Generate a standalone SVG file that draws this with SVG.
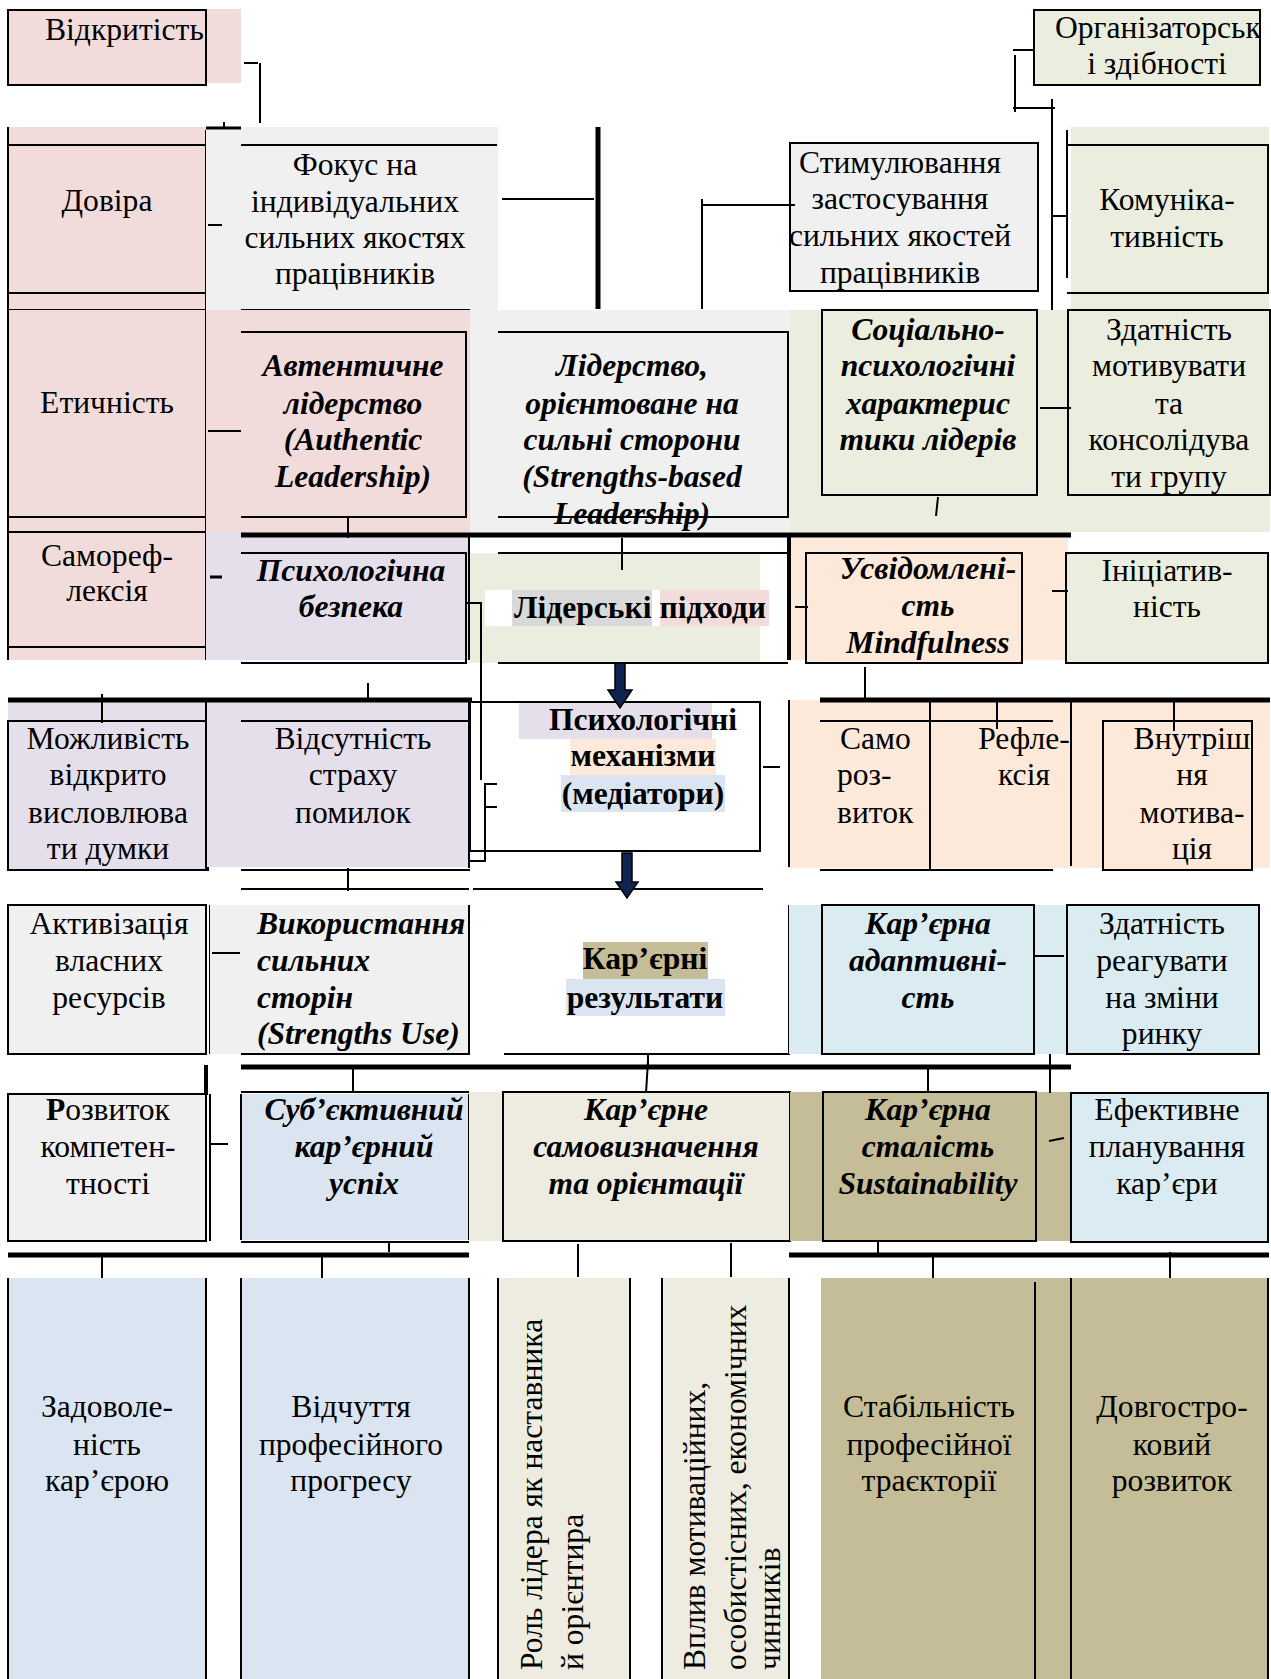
<svg xmlns="http://www.w3.org/2000/svg" width="1271" height="1679" viewBox="0 0 1271 1679">
<style>
text{font-family:"Liberation Serif","Times New Roman",serif;font-size:31.6px;fill:#000;text-anchor:middle}
.bi{font-weight:bold;font-style:italic}
.b{font-weight:bold}
.st{text-anchor:start}
.ln{stroke:#000;stroke-width:2;fill:none}
.th{stroke:#000;stroke-width:5;fill:none}
.bx{stroke:#000;stroke-width:2}
.pink{fill:#f2dcdb}.gray{fill:#f0f0f0}.green{fill:#ebeede}.purple{fill:#e5dfec}.peach{fill:#fde9d9}.lblue{fill:#daebf2}.blue{fill:#dbe5f1}.beige{fill:#eeece1}.olive{fill:#c4bd97}
</style>
<defs>
<clipPath id="clipOrg"><rect x="1034" y="10" width="226" height="75"/></clipPath>
</defs>

<g id="n-vidkrytist">
<rect class="pink" x="8" y="9" width="233" height="74"/>
<rect class="pink bx" x="8" y="10" width="198" height="75"/>
<text class="st" x="45" y="40">Відкритість</text>
</g>

<g id="n-dovira">
<rect class="pink" x="8" y="127" width="198" height="183"/>
<path class="ln" d="M8,145H206M8,293H206M8,310H206"/>
<text x="107" y="211">Довіра</text>
</g>

<g id="n-etychnist">
<rect class="pink" x="8" y="310" width="198" height="225"/>
<path class="ln" d="M8,517H206M8,532H206"/>
<text x="107" y="413">Етичність</text>
</g>

<g id="n-samorefleksia">
<rect class="pink" x="8" y="535" width="198" height="125"/>
<path class="ln" d="M8,647H206"/>
<text x="107" y="566">Самореф-</text>
<text x="107" y="601">лексія</text>
</g>
<path class="ln" d="M8,127V660M206,130V660"/>

<g id="n-fokus">
<rect class="gray" x="206" y="127" width="292" height="183"/>
<path class="ln" d="M241,145H497M241,310H470"/>
<text x="355" y="175">Фокус на</text>
<text x="355" y="212">індивідуальних</text>
<text x="355" y="248">сильних якостях</text>
<text x="355" y="284">працівників</text>
</g>

<g id="n-stymuliuvannia">
<rect class="gray bx" x="790" y="143" width="248" height="148"/>
<text x="900" y="173">Стимулювання</text>
<text x="900" y="209">застосування</text>
<text x="900" y="246">сильних якостей</text>
<text x="900" y="283">працівників</text>
</g>

<g id="n-orhanizatorski">
<rect class="green bx" x="1034" y="10" width="226" height="75"/>
<g clip-path="url(#clipOrg)"><text class="st" x="1055" y="38">Організаторськ</text></g>
<text x="1157" y="74">і здібності</text>
</g>

<g id="n-komunikatyvnist">
<rect class="green" x="1071" y="127" width="198" height="183"/>
<path class="ln" d="M1067,130V278M1067,145H1268V293H1067"/>
<text x="1167" y="210">Комуніка-</text>
<text x="1167" y="247">тивність</text>
</g>

<g id="n-avtentychne">
<rect class="pink" x="206" y="310" width="264" height="222"/>
<path class="ln" d="M241,332H466V517H241"/>
<text class="bi" x="353" y="376">Автентичне</text>
<text class="bi" x="353" y="414">лідерство</text>
<text class="bi" x="353" y="450">(Authentic</text>
<text class="bi" x="353" y="487">Leadership)</text>
</g>

<g id="n-strengths-leadership">
<rect class="gray" x="470" y="310" width="320" height="222"/>
<path class="ln" d="M498,332H788V517H498"/>
<text class="bi" x="632" y="376">Лідерство,</text>
<text class="bi" x="632" y="414">орієнтоване на</text>
<text class="bi" x="632" y="450">сильні сторони</text>
<text class="bi" x="632" y="487">(Strengths-based</text>
<text class="bi" x="632" y="524">Leadership)</text>
</g>

<g id="n-sotsialno">
<rect class="green" x="790" y="310" width="480" height="222"/>
<rect class="green bx" x="822" y="310" width="215" height="185"/>
<text class="bi" x="928" y="340">Соціально-</text>
<text class="bi" x="928" y="376">психологічні</text>
<text class="bi" x="928" y="414">характерис</text>
<text class="bi" x="928" y="450">тики лідерів</text>
</g>

<g id="n-zdatnist-motyvuvaty">
<rect class="green bx" x="1068" y="310" width="202" height="185"/>
<text x="1169" y="340">Здатність</text>
<text x="1169" y="376">мотивувати</text>
<text x="1169" y="414">та</text>
<text x="1169" y="450">консолідува</text>
<text x="1169" y="487">ти групу</text>
</g>

<g id="n-psykh-bezpeka">
<rect class="purple" x="206" y="532" width="264" height="128"/>
<path class="ln" d="M241,553H466V663H241"/>
<text class="bi" x="351" y="581">Психологічна</text>
<text class="bi" x="351" y="617">безпека</text>
</g>

<g id="n-liderski-pidkhody">
<rect class="green" x="470" y="553" width="290" height="110"/>
<rect fill="#ffffff" x="485" y="590" width="285" height="36"/>
<rect fill="#d9d9d9" x="512" y="590" width="140" height="36"/>
<rect class="pink" x="660" y="590" width="109" height="36"/>
<path class="ln" d="M498,553H788M498,663H788"/>
<text class="b" x="640" y="618">Лідерські підходи</text>
</g>

<g id="n-usvidomlenist">
<rect class="peach" x="789" y="538" width="279" height="122"/>
<rect class="peach bx" x="806" y="553" width="216" height="110"/>
<text class="bi" x="928" y="579">Усвідомлені-</text>
<text class="bi" x="928" y="616">сть</text>
<text class="bi" x="928" y="653">Mindfulness</text>
</g>

<g id="n-initsiatyvnist">
<rect class="green bx" x="1066" y="553" width="202" height="110"/>
<text x="1167" y="581">Ініціатив-</text>
<text x="1167" y="617">ність</text>
</g>

<g id="n-mozhlyvist">
<rect class="purple" x="8" y="700" width="198" height="168"/>
<rect class="purple bx" x="8" y="721" width="200" height="149"/>
<text x="108" y="749">Можливість</text>
<text x="108" y="785">відкрито</text>
<text x="108" y="823">висловлюва</text>
<text x="108" y="859">ти думки</text>
</g>

<g id="n-vidsutnist">
<rect class="purple" x="206" y="700" width="264" height="167"/>
<path class="ln" d="M206,700V870M241,721H470M241,870H470"/>
<text x="353" y="749">Відсутність</text>
<text x="353" y="785">страху</text>
<text x="353" y="823">помилок</text>
</g>

<g id="n-psykh-mekhanizmy">
<rect fill="#ffffff" class="bx" x="470" y="702" width="290" height="149"/>
<rect class="purple" x="519" y="703" width="193" height="36"/>
<rect class="peach" x="570" y="739" width="146" height="36"/>
<rect class="blue" x="561" y="775" width="164" height="37"/>
<text class="b" x="643" y="730">Психологічні</text>
<text class="b" x="643" y="766">механізми</text>
<text class="b" x="643" y="804">(медіатори)</text>
</g>

<g id="n-samorozvytok">
<rect class="peach" x="788" y="700" width="142" height="168"/>
<path class="ln" d="M789,700V867M820,721H930M820,870H930"/>
<text class="st" x="840" y="749">Само</text>
<text class="st" x="837" y="785">роз-</text>
<text class="st" x="837" y="823">виток</text>
</g>

<g id="n-refleksia">
<rect class="peach" x="930" y="700" width="141" height="168"/>
<path class="ln" d="M930,700V870M930,721H1053M930,870H1053"/>
<text x="1024" y="749">Рефле-</text>
<text x="1024" y="785">ксія</text>
</g>

<g id="n-vnutrishnia">
<rect class="peach" x="1071" y="700" width="199" height="168"/>
<path class="ln" d="M1071,700V866"/>
<rect class="peach bx" x="1103" y="721" width="149" height="149"/>
<text x="1192" y="749">Внутріш</text>
<text x="1192" y="785">ня</text>
<text x="1192" y="823">мотива-</text>
<text x="1192" y="859">ція</text>
</g>

<g id="n-aktyvizatsia">
<rect class="gray bx" x="8" y="905" width="198" height="149"/>
<path class="ln" d="M210,905V1054"/>
<text x="109" y="934">Активізація</text>
<text x="109" y="971">власних</text>
<text x="109" y="1008">ресурсів</text>
</g>

<g id="n-vykorystannia">
<rect class="gray" x="210" y="905" width="259" height="149"/>
<path class="ln" d="M241,889H469M241,1054H469V905"/>
<text class="bi st" x="257" y="934">Використання</text>
<text class="bi st" x="257" y="971">сильних</text>
<text class="bi st" x="257" y="1008">сторін</text>
<text class="bi st" x="257" y="1044">(Strengths Use)</text>
</g>

<g id="n-kariierni-rezultaty">
<rect class="olive" x="583" y="942" width="125" height="37"/>
<rect class="blue" x="566" y="979" width="159" height="37"/>
<path class="ln" d="M473,889H763M504,1054H789V905"/>
<text class="b" x="645" y="969">Кар’єрні</text>
<text class="b" x="645" y="1008">результати</text>
</g>

<g id="n-adaptyvnist">
<rect class="lblue" x="789" y="905" width="471" height="149"/>
<rect class="lblue bx" x="822" y="905" width="212" height="149"/>
<text class="bi" x="928" y="934">Кар’єрна</text>
<text class="bi" x="928" y="971">адаптивні-</text>
<text class="bi" x="928" y="1008">сть</text>
</g>

<g id="n-zdatnist-reahuvaty">
<rect class="lblue bx" x="1067" y="905" width="192" height="149"/>
<text x="1162" y="934">Здатність</text>
<text x="1162" y="971">реагувати</text>
<text x="1162" y="1008">на зміни</text>
<text x="1162" y="1044">ринку</text>
</g>

<g id="n-rozvytok">
<rect class="gray bx" x="8" y="1094" width="198" height="147"/>
<path class="ln" d="M210,1094V1241"/>
<text x="108" y="1120"><tspan class="b">Р</tspan>озвиток</text>
<text x="108" y="1157">компетен-</text>
<text x="108" y="1194">тності</text>
</g>

<g id="n-subiektyvnyi">
<rect class="blue" x="241" y="1094" width="228" height="146"/>
<path class="ln" d="M241,1092H469M241,1242H469M241,1094V1240M469,1094V1240"/>
<text class="bi" x="364" y="1120">Суб’єктивний</text>
<text class="bi" x="364" y="1157">кар’єрний</text>
<text class="bi" x="364" y="1194">успіх</text>
</g>

<g id="n-samovyznachennia">
<rect class="beige" x="469" y="1092" width="321" height="149"/>
<rect class="beige bx" x="503" y="1092" width="287" height="149"/>
<text class="bi" x="646" y="1120">Кар’єрне</text>
<text class="bi" x="646" y="1157">самовизначення</text>
<text class="bi" x="646" y="1194">та орієнтації</text>
</g>

<g id="n-stalist">
<rect class="olive" x="790" y="1092" width="281" height="149"/>
<rect class="olive bx" x="823" y="1092" width="213" height="149"/>
<text class="bi" x="928" y="1120">Кар’єрна</text>
<text class="bi" x="928" y="1157">сталість</text>
<text class="bi" x="928" y="1194">Sustainability</text>
</g>

<g id="n-efektyvne">
<rect class="lblue bx" x="1071" y="1093" width="197" height="149"/>
<text x="1167" y="1120">Ефективне</text>
<text x="1167" y="1157">планування</text>
<text x="1167" y="1194">кар’єри</text>
</g>

<g id="n-zadovolenist">
<rect class="blue" x="8" y="1278" width="198" height="401"/>
<path class="ln" d="M8,1278V1679M206,1278V1679"/>
<text x="107" y="1417">Задоволе-</text>
<text x="107" y="1455">ність</text>
<text x="107" y="1491">кар’єрою</text>
</g>

<g id="n-vidchuttia">
<rect class="blue" x="241" y="1278" width="228" height="401"/>
<path class="ln" d="M241,1278V1679M469,1278V1679"/>
<text x="351" y="1417">Відчуття</text>
<text x="351" y="1455">професійного</text>
<text x="351" y="1491">прогресу</text>
</g>

<g id="n-rol-lidera">
<rect class="beige" x="498" y="1278" width="132" height="401"/>
<path class="ln" d="M498,1278V1679M630,1278V1679"/>
<text class="st" transform="translate(542,1670) rotate(-90)">Роль лідера як наставника</text>
<text class="st" transform="translate(583,1670) rotate(-90)">й орієнтира</text>
</g>

<g id="n-vplyv">
<rect class="beige" x="662" y="1278" width="127" height="401"/>
<path class="ln" d="M662,1278V1679M789,1278V1679"/>
<text class="st" transform="translate(705,1670) rotate(-90)">Вплив мотиваційних,</text>
<text class="st" transform="translate(746,1670) rotate(-90)">особистісних, економічних</text>
<text class="st" transform="translate(780,1670) rotate(-90)">чинників</text>
</g>

<g id="n-stabilnist">
<rect class="olive" x="821" y="1278" width="250" height="401"/>
<path class="ln" d="M1035,1282V1679"/>
<text x="929" y="1417">Стабільність</text>
<text x="929" y="1455">професійної</text>
<text x="929" y="1491">траєкторії</text>
</g>

<g id="n-dovhostrokovyi">
<rect class="olive" x="1071" y="1278" width="198" height="401"/>
<path class="ln" d="M1071,1278V1679M1268,1278V1679"/>
<text x="1172" y="1417">Довгостро-</text>
<text x="1172" y="1455">ковий</text>
<text x="1172" y="1491">розвиток</text>
</g>

<g id="connectors">
<path class="ln" d="M244,63H258M260,63V123"/>
<path class="ln" d="M224,122V128" />
<path class="ln" style="stroke-width:3" d="M206,128H241"/>
<path class="ln" d="M208,225H222"/>
<path class="ln" d="M502,199H594"/>
<path class="th" d="M598,127V309"/>
<path class="ln" d="M703,205H795M702,199V309"/>
<path class="ln" d="M1013,50H1034M1015,55V112M1013,108H1055M1052,99V310"/>
<path class="ln" d="M1052,216H1068"/>
<path class="ln" d="M208,431H241"/>
<path class="ln" d="M348,517V538"/>
<path class="ln" d="M1040,408H1071"/>
<path class="ln" d="M938,497L936,516"/>
<path class="th" d="M241,535H1071"/>
<path class="ln" d="M622,538V570"/>
<path class="ln" d="M469,535V660"/>
<path class="ln" style="stroke-width:4" d="M789,535V660"/>
<path class="ln" style="stroke-width:3" d="M210,577H222"/>
<path class="ln" d="M466,603H481V780"/>
<path class="ln" d="M795,607H808"/>
<path class="ln" d="M1052,591H1068"/>
<path class="th" d="M8,700H472M820,700H1270"/>
<path class="ln" d="M102,694V723M368,683V698M865,667V698M997,700V729M1174,700V731"/>
<path class="ln" d="M469,700V868"/>
<path class="ln" d="M763,767H780"/>
<path class="ln" d="M497,784H485V861H470M485,807H497"/>
<path class="ln" d="M348,868V891"/>
<polygon fill="#0f2450" stroke="#000" stroke-width="1.5" points="615,663 625,663 625,690 632,690 620,708 608,690 615,690"/>
<polygon fill="#0f2450" stroke="#000" stroke-width="1.5" points="622,853 632,853 632,882 638,882 627,898 616,882 622,882"/>
<path class="ln" d="M212,953H240"/>
<path class="ln" d="M1034,956H1064"/>
<path class="ln" d="M648,1054V1068M1050,1054V1067"/>
<path class="th" d="M241,1067H1071"/>
<path class="ln" style="stroke-width:4" d="M206,1065V1095"/>
<path class="ln" d="M353,1067V1092M648,1061L646,1093M928,1067V1093M1050,1067V1093"/>
<path class="ln" d="M210,1144H228"/>
<path class="ln" d="M1049,1141L1064,1138"/>
<path class="th" d="M8,1255H469M789,1255H1269"/>
<path class="ln" d="M102,1255V1278M322,1253V1278M389,1241V1252M578,1244V1277M731,1243V1277M878,1242V1255M933,1255V1278M1170,1252V1278"/>
</g>
</svg>
